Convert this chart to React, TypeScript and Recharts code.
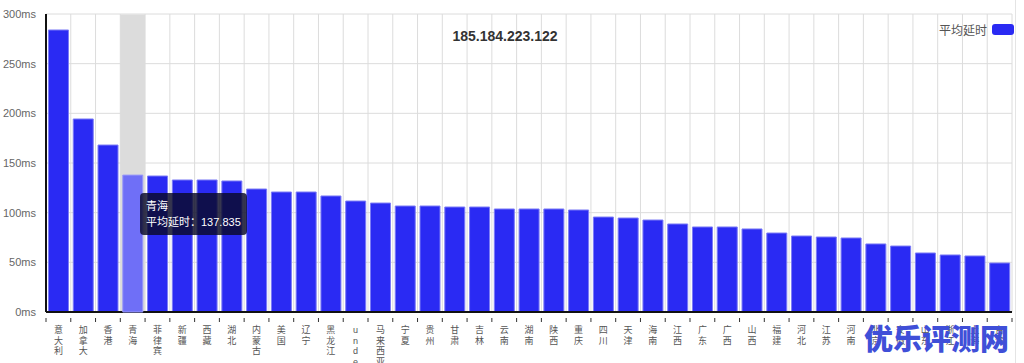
import { BarChart, Bar, XAxis, YAxis, CartesianGrid, Tooltip } from 'recharts'

const regions = [
  '意大利', '加拿大', '香港', '青海', '菲律宾', '新疆', '西藏', '湖北', '内蒙古', '美国',
  '辽宁', '黑龙江', 'undefined', '马来西亚', '宁夏', '贵州', '甘肃', '吉林', '云南', '湖南',
  '陕西', '重庆', '四川', '天津', '海南', '江西', '广东', '广西', '山西', '福建',
  '河北', '江苏', '河南', '北京', '安徽', '山东', '浙江', '上海', '台湾',
]

const latency = [
  283.9, 194.3, 168.1, 137.835, 136.9, 132.9, 132.9, 131.9, 123.8, 120.8,
  120.8, 116.8, 111.7, 109.7, 106.7, 106.7, 105.7, 105.7, 103.7, 103.7,
  103.7, 102.7, 95.6, 94.6, 92.6, 88.6, 85.6, 85.6, 83.6, 79.5,
  76.5, 75.5, 74.5, 68.5, 66.4, 59.4, 57.4, 56.4, 49.3,
]

const yTicks = [0, 50, 100, 150, 200, 250, 300]

const title = '185.184.223.122'
const seriesName = '平均延时'
const watermark = '优乐评测网'

const data = regions.map((name, i) => ({ name, value: latency[i] }))

const FONT = '"Liberation Sans", Arial, "Noto Sans CJK SC", sans-serif'
const BLUE = '#2a2af3'
const STEP = 966 / regions.length

function VerticalTick(props: any) {
  const { x, y, payload } = props
  const chars = String(payload.value).split('')
  return (
    <g>
      <line x1={x - STEP / 2} x2={x - STEP / 2} y1={y - 6} y2={y - 2} stroke="#333" />
      {payload.index === regions.length - 1 && (
        <line x1={x + STEP / 2} x2={x + STEP / 2} y1={y - 6} y2={y - 2} stroke="#333" />
      )}
      <text x={x} y={y + 9} textAnchor="middle" fontSize={9} fill="#555" fontFamily={FONT}>
        {chars.map((c, i) => (
          <tspan key={i} x={x} dy={i === 0 ? 0 : 10.5}>{c}</tspan>
        ))}
      </text>
    </g>
  )
}

function TipBox({ active, payload }: any) {
  if (!active || !payload || !payload.length) return null
  const p = payload[0]
  return (
    <div style={{
      background: 'rgba(10,10,40,0.82)',
      color: '#fff',
      borderRadius: 4,
      padding: '5px 6px',
      fontSize: 11,
      lineHeight: '16px',
      fontFamily: FONT,
    }}>
      <div>{p.payload.name}</div>
      <div>{seriesName}：{p.value}</div>
    </div>
  )
}

export default function App() {
  return (
    <div style={{ position: 'absolute', left: 0, top: 0, width: 1024, height: 363, background: '#fff', overflow: 'hidden' }}>
      <BarChart
        width={1024}
        height={363}
        data={data}
        margin={{ top: 14, right: 12, bottom: 0, left: 0 }}
        barCategoryGap="10%"
      >
        <CartesianGrid
          stroke="#dcdcdc"
          verticalCoordinatesGenerator={({ offset }: any) =>
            regions.map((_, i) => offset.left + (i + 1) * (offset.width / regions.length))
          }
        />
        <XAxis
          dataKey="name"
          interval={0}
          tick={<VerticalTick />}
          tickLine={false}
          axisLine={{ stroke: '#111', strokeWidth: 2 }}
          tickMargin={6}
          height={51}
        />
        <YAxis
          domain={[0, 300]}
          ticks={yTicks}
          width={46}
          tickFormatter={(v: number) => `${v}ms`}
          tick={{ fontSize: 11, fill: '#666', fontFamily: FONT }}
          tickLine={false}
          axisLine={{ stroke: '#111', strokeWidth: 2 }}
          tickMargin={4}
        />
        <Tooltip
          defaultIndex={3}
          content={<TipBox />}
          cursor={{ fill: '#dcdcdc' }}
          position={{ x: 140, y: 193 }}
          isAnimationActive={false}
        />
        <Bar
          dataKey="value"
          name={seriesName}
          fill={BLUE}
          stroke="#7c7cf6"
          strokeWidth={1}
          activeBar={{ fill: '#6f6ff7', stroke: '#9a9af8' }}
          isAnimationActive={false}
        />
      </BarChart>
      <div style={{ position: 'absolute', left: 0, width: 1010, top: 28, textAlign: 'center', fontFamily: FONT, fontWeight: 'bold', fontSize: 14, color: '#333' }}>
        {title}
      </div>
      <div style={{ position: 'absolute', right: 10, top: 21, display: 'flex', alignItems: 'center', fontFamily: FONT, fontSize: 12, color: '#555' }}>
        <span>{seriesName}</span>
        <span style={{ display: 'inline-block', width: 22, height: 11, background: BLUE, borderRadius: 3, marginLeft: 5 }} />
      </div>
      <div style={{ position: 'absolute', left: 1015, top: 0, width: 1, height: 363, background: '#e4e4e4' }} />
      <div style={{ position: 'absolute', left: 864, top: 318, whiteSpace: 'nowrap', fontFamily: '"Noto Sans CJK SC", sans-serif', fontWeight: 900, fontSize: 29, color: '#3f4fd8', lineHeight: '38px' }}>
        {watermark}
      </div>
    </div>
  )
}
